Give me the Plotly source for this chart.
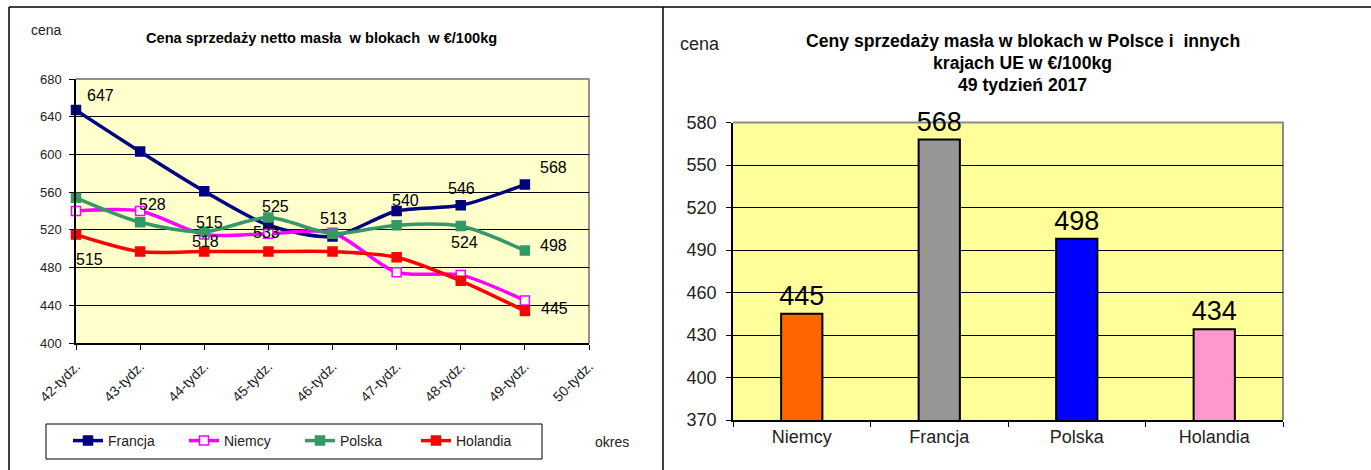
import plotly.graph_objects as go

# ---------------- data ----------------
weeks = ["42-tydz.", "43-tydz.", "44-tydz.", "45-tydz.", "46-tydz.",
         "47-tydz.", "48-tydz.", "49-tydz.", "50-tydz."]
francja = [647, 603, 561, 525, 513, 540, 546, 568]
niemcy = [540, 540, 515, 516, 517, 475, 472, 445]
polska = [554, 528, 518, 533, 516, 525, 524, 498]
holandia = [515, 497, 497, 497, 497, 491, 466, 434]

countries = ["Niemcy", "Francja", "Polska", "Holandia"]
prices_wk49 = [445, 568, 498, 434]

# ---------------- layout helpers ----------------
W, H = 1371, 470
FONT = "Liberation Sans, Arial, sans-serif"


def pxx(x):
    return x / W


def pyy(y):
    return 1 - y / H


series = [
    ("Francja", francja, "#000080", "square", "#000080"),
    ("Niemcy", niemcy, "#FF00FF", "square", "#FFFFFF"),
    ("Polska", polska, "#339966", "square", "#339966"),
    ("Holandia", holandia, "#FF0000", "square", "#FF0000"),
]

fig = go.Figure()
for name, vals, col, sym, fill in series:
    fig.add_trace(go.Scatter(
        x=weeks[:len(vals)], y=vals, name=name, mode="lines+markers",
        line=dict(color=col, width=3.5, shape="spline", smoothing=0.8),
        marker=dict(symbol=sym, size=9, color=fill,
                    line=dict(color=col, width=1.5)),
        xaxis="x", yaxis="y", cliponaxis=False,
    ))

fig.add_trace(go.Bar(
    x=countries, y=prices_wk49, xaxis="x2", yaxis="y2", showlegend=False,
    marker=dict(color=["#FF6600", "#969696", "#0000FF", "#FF99CC"],
                line=dict(color="#000000", width=2)),
    width=0.3, text=[str(v) for v in prices_wk49], textposition="outside",
    textfont=dict(size=27, color="#000000", family=FONT),
    constraintext="none", cliponaxis=False,
))

# data labels of the line chart: (series values, point index, dx, dy)
label_offsets = [
    (francja, 0, 24, 15), (polska, 1, 12, 18), (niemcy, 2, 5, 12),
    (polska, 2, 1, -10), (francja, 3, 7, 19), (polska, 3, -2, -15),
    (francja, 4, 1, 18), (francja, 5, 9, 11), (francja, 6, 1, 17),
    (francja, 7, 29, 17), (polska, 6, 4, -16), (polska, 7, 29, 5),
    (niemcy, 7, 30, -8), (holandia, 0, 13, -25),
]
annotations = []
for vals, i, dx, dy in label_offsets:
    annotations.append(dict(
        x=weeks[i], y=vals[i], xref="x", yref="y", text=str(vals[i]),
        showarrow=False, xshift=dx, yshift=dy, xanchor="center", yanchor="middle",
        font=dict(size=16, color="#000000", family=FONT)))


def txt(x, y, s, size, color="#222222"):
    return dict(x=pxx(x), y=pyy(y), xref="paper", yref="paper", text=s,
                showarrow=False, xanchor="center", yanchor="middle",
                font=dict(size=size, color=color, family=FONT))


annotations += [
    txt(46, 30, "cena", 14),
    txt(321, 38, "<b>Cena sprzedaży netto masła\u00a0 w blokach\u00a0 w €/100kg</b>", 14.6, "#000000"),
    txt(612, 442, "okres", 14),
    txt(700, 44, "cena", 18),
    txt(1023, 41, "<b>Ceny sprzedaży masła w blokach w Polsce i\u00a0 innych</b>", 17.6, "#000000"),
    txt(1023, 63, "<b>krajach UE w €/100kg</b>", 17.6, "#000000"),
    txt(1023, 85, "<b>49 tydzień 2017</b>", 17.6, "#000000"),
]

shapes = [
    # plot backgrounds
    dict(type="rect", xref="x domain", yref="y domain", x0=0, x1=1, y0=0, y1=1,
         fillcolor="#FFFFCC", line=dict(width=0), layer="below"),
    dict(type="rect", xref="x2 domain", yref="y2 domain", x0=0, x1=1, y0=0, y1=1,
         fillcolor="#FFFF99", line=dict(width=0), layer="below"),
    # top/right borders of plot areas
    dict(type="path", xref="x domain", yref="y domain",
         path="M 0,1 L 1,1 L 1,0", line=dict(color="#6E6E6E", width=1.5), layer="below"),
    dict(type="path", xref="x2 domain", yref="y2 domain",
         path="M 0,1 L 1,1 L 1,0", line=dict(color="#8C8C8C", width=2), layer="below"),
    # legend frame
    dict(type="rect", xref="paper", yref="paper", x0=pxx(46), x1=pxx(542),
         y0=pyy(459), y1=pyy(424), line=dict(color="#000000", width=1),
         fillcolor="#FFFFFF", layer="below"),
    # page frame lines
    dict(type="line", xref="paper", yref="paper", x0=pxx(9), x1=1, y0=pyy(7), y1=pyy(7),
         line=dict(color="#000000", width=1.5)),
    dict(type="line", xref="paper", yref="paper", x0=pxx(9), x1=pxx(9), y0=pyy(7), y1=0,
         line=dict(color="#000000", width=1.5)),
    dict(type="line", xref="paper", yref="paper", x0=pxx(663), x1=pxx(663), y0=pyy(7), y1=0,
         line=dict(color="#000000", width=1.5)),
]

fig.update_layout(
    template="none",
    width=W, height=H, autosize=False,
    margin=dict(l=0, r=0, t=0, b=0, pad=0),
    paper_bgcolor="#FFFFFF", plot_bgcolor="rgba(0,0,0,0)",
    font=dict(family=FONT, color="#222222"),
    showlegend=True,
    legend=dict(orientation="h", x=pxx(68), y=pyy(425), xanchor="left", yanchor="top",
                borderwidth=0, bgcolor="rgba(0,0,0,0)",
                font=dict(size=14, color="#222222", family=FONT),
                entrywidth=71, entrywidthmode="pixels", itemclick=False),
    xaxis=dict(domain=[pxx(76), pxx(589)], type="category", categoryarray=weeks,
               categoryorder="array", range=[0, 8], tickangle=-45, automargin=False,
               ticks="outside", ticklen=5, tickcolor="#000000", ticklabelstandoff=3,
               showline=True, linecolor="#000000", linewidth=1.5, showgrid=False,
               tickfont=dict(size=14, color="#222222"), anchor="y", fixedrange=True),
    yaxis=dict(domain=[pyy(343), pyy(79)], range=[400, 680], tick0=400, dtick=40,
               automargin=False,
               ticks="outside", ticklen=5, tickcolor="#000000", ticklabelstandoff=5,
               showline=True, linecolor="#000000", linewidth=1.5,
               showgrid=True, gridcolor="#000000", gridwidth=1, zeroline=False,
               tickfont=dict(size=13, color="#222222"), anchor="x", fixedrange=True),
    xaxis2=dict(domain=[pxx(733), pxx(1283)], type="category", range=[-0.5, 3.5],
                automargin=False,
                tickson="boundaries", ticks="outside", ticklen=5, tickcolor="#000000",
                showline=True, linecolor="#000000", linewidth=1.5, showgrid=False,
                tickfont=dict(size=18, color="#222222"), anchor="y2", fixedrange=True),
    yaxis2=dict(domain=[pyy(420), pyy(122.5)], range=[370, 580], tick0=370, dtick=30,
                automargin=False,
                ticks="outside", ticklen=5, tickcolor="#000000", ticklabelstandoff=6,
                showline=True, linecolor="#000000", linewidth=1.5,
                showgrid=True, gridcolor="#000000", gridwidth=1, zeroline=False,
                tickfont=dict(size=18, color="#222222"), anchor="x2", fixedrange=True),
    annotations=annotations, shapes=shapes,
    bargap=0.7,
)

fig.write_html(
    "out.html",
    config={"displayModeBar": False},
    post_script="document.body.style.margin='0px';document.body.style.overflow='hidden';",
)
